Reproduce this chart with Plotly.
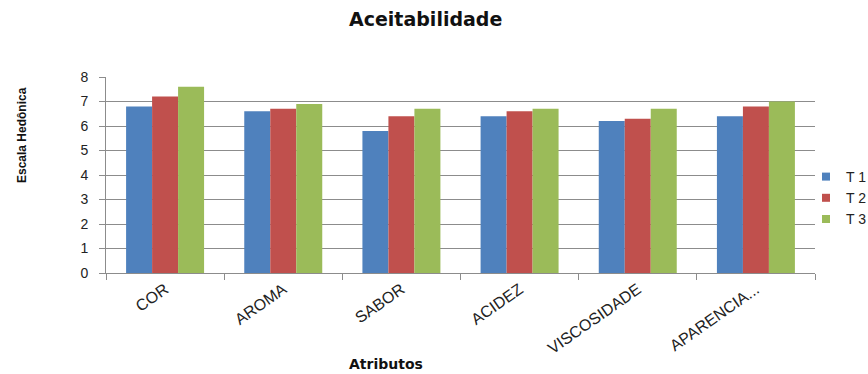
import plotly.graph_objects as go

categories = ["COR", "AROMA", "SABOR", "ACIDEZ", "VISCOSIDADE", "APARENCIA..."]
t1 = [6.8, 6.6, 5.8, 6.4, 6.2, 6.4]
t2 = [7.2, 6.7, 6.4, 6.6, 6.3, 6.8]
t3 = [7.6, 6.9, 6.7, 6.7, 6.7, 7.0]
series_names = ["T 1", "T 2", "T 3"]
colors = ["#4F81BD", "#C0504D", "#9BBB59"]
y_ticks = [0, 1, 2, 3, 4, 5, 6, 7, 8]

W, H = 868, 374
L, R, T, B = 106, 53, 77, 101
PW, PH = W - L - R, H - T - B


def px_x(x):
    return (x - L) / PW


def px_y(y):
    return (H - B - y) / PH


fig = go.Figure()
for name, vals, col in zip(series_names, [t1, t2, t3], colors):
    fig.add_trace(go.Bar(
        x=categories, y=vals, name=name, showlegend=False,
        marker=dict(color=col, line=dict(width=0)),
    ))
# small square swatches for the legend
for name, col in zip(series_names, colors):
    fig.add_trace(go.Scatter(
        x=[None], y=[None], name=name, mode="markers",
        marker=dict(symbol="square", size=8, color=col),
    ))

regular = "Liberation Sans, Arial, sans-serif"
wide = "DejaVu Sans, Verdana, sans-serif"

fig.update_layout(
    width=W, height=H,
    margin=dict(l=L, r=R, t=T, b=B, autoexpand=False),
    paper_bgcolor="white", plot_bgcolor="white",
    barmode="group", bargap=0.34, bargroupgap=0,
    showlegend=True,
    legend=dict(
        x=px_x(806), xanchor="left",
        y=px_y(198), yanchor="middle",
        font=dict(family=regular, size=14, color="#222"),
        itemwidth=30, tracegroupgap=0,
        borderwidth=0,
        bgcolor="rgba(0,0,0,0)",
    ),
    font=dict(family=regular, color="#222"),
    xaxis=dict(
        type="category",
        tickangle=-35,
        tickfont=dict(family=regular, size=16, color="#222"),
        showline=True, linecolor="#8c8c8c", linewidth=1,
        ticks="outside", tickson="boundaries", ticklen=6, tickcolor="#8c8c8c",
        showgrid=False,
    ),
    yaxis=dict(
        range=[0, 8], tickvals=y_ticks,
        tickfont=dict(family=regular, size=14, color="#222"),
        showline=True, linecolor="#8c8c8c", linewidth=1,
        ticks="outside", ticklen=6, tickcolor="#8c8c8c",
        ticklabelstandoff=8,
        showgrid=True, gridcolor="#8c8c8c", gridwidth=1,
        zeroline=False,
    ),
    annotations=[
        dict(text="<b>Aceitabilidade</b>", xref="paper", yref="paper",
             x=px_x(425), y=px_y(19),
             showarrow=False, font=dict(family=wide, size=19, color="#111"),
             xanchor="center", yanchor="middle"),
        dict(text="<b>Escala Hedônica</b>", xref="paper", yref="paper",
             x=px_x(22), y=px_y(135),
             textangle=-90, showarrow=False,
             font=dict(family=regular, size=12, color="#111"),
             xanchor="center", yanchor="middle"),
        dict(text="<b>Atributos</b>", xref="paper", yref="paper",
             x=px_x(386), y=px_y(364),
             showarrow=False, font=dict(family=wide, size=14, color="#111"),
             xanchor="center", yanchor="middle"),
    ],
)

fig.write_html("out.html")
